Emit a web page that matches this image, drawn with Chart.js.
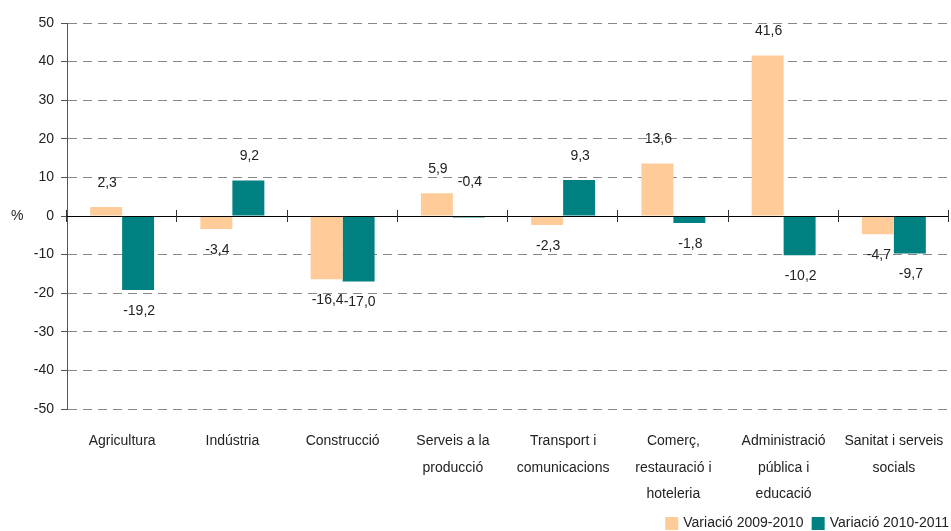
<!DOCTYPE html>
<html><head><meta charset="utf-8">
<script src="https://cdn.jsdelivr.net/npm/chart.js@4/dist/chart.umd.min.js"></script>
<style>html,body{margin:0;padding:0;background:#fff}#wrap{width:951px;height:531px;position:relative}</style>
</head><body><div id="wrap"><canvas id="c" width="951" height="531"></canvas></div>
<script>
const categories = [
  ['Agricultura'],
  ['Indústria'],
  ['Construcció'],
  ['Serveis a la', 'producció'],
  ['Transport i', 'comunicacions'],
  ['Comerç,', 'restauració i', 'hoteleria'],
  ['Administració', 'pública i', 'educació'],
  ['Sanitat i serveis', 'socials']
];
const seriesNames = ['Variació 2009-2010', 'Variació 2010-2011'];
const values2009_2010 = [2.3, -3.4, -16.4, 5.9, -2.3, 13.6, 41.6, -4.7];
const values2010_2011 = [-19.2, 9.2, -17.0, -0.4, 9.3, -1.8, -10.2, -9.7];
const yMin = -50, yMax = 50, yStep = 10;
const axisUnit = '%';

const FONT = "'Liberation Sans Narrow','Arial Narrow','Liberation Sans',Arial,sans-serif";
Chart.defaults.font.family = FONT;
Chart.defaults.color = '#222';

const fmt = v => v.toFixed(1).replace('.', ',');

const extras = {
  id: 'extras',
  afterDatasetsDraw(chart) {
    const {ctx, chartArea: a, scales: {x, y}} = chart;
    const y0 = y.getPixelForValue(0);
    ctx.save();
    // zero line
    ctx.strokeStyle = '#000';
    ctx.lineWidth = 1;
    ctx.beginPath();
    ctx.moveTo(a.left, Math.round(y0) + 0.5);
    ctx.lineTo(a.right, Math.round(y0) + 0.5);
    ctx.stroke();
    // category boundary ticks on zero line
    ctx.strokeStyle = '#333';
    const n = categories.length;
    for (let i = 0; i <= n; i++) {
      const px = Math.round(a.left + i * (a.right - a.left) / n) - 0.5;
      ctx.beginPath();
      ctx.moveTo(px, y0 - 6);
      ctx.lineTo(px, y0 + 6);
      ctx.stroke();
    }
    // data labels
    ctx.font = '14px ' + FONT;
    ctx.fillStyle = '#222';
    ctx.textAlign = 'center';
    ctx.textBaseline = 'middle';
    chart.data.datasets.forEach((ds, di) => {
      const meta = chart.getDatasetMeta(di);
      meta.data.forEach((bar, i) => {
        const v = ds.data[i];
        let ly;
        if (v >= 0) ly = y.getPixelForValue(v) - 24;
        else if (v > -1) ly = y0 - 34;
        else ly = y.getPixelForValue(v) + 21;
        ctx.fillText(fmt(v), bar.x + 1, ly);
      });
    });
    // unit label
    ctx.textAlign = 'left';
    ctx.fillText(axisUnit, 11, y0);
    // legend (bottom right)
    const items = chart.data.datasets.map(d => ({text: d.label, color: d.backgroundColor}));
    const box = 13, gapBox = 5, gapItem = 8;
    let total = 0;
    items.forEach((it, k) => { total += box + gapBox + ctx.measureText(it.text).width + (k < items.length - 1 ? gapItem : 0); });
    let lx = chart.width - 2 - total;
    const ly = 523;
    items.forEach(it => {
      ctx.fillStyle = it.color;
      ctx.fillRect(lx, ly - 6, box, box);
      lx += box + gapBox;
      ctx.fillStyle = '#222';
      ctx.fillText(it.text, lx, ly);
      lx += ctx.measureText(it.text).width + gapItem;
    });
    ctx.restore();
  }
};

new Chart(document.getElementById('c'), {
  type: 'bar',
  data: {
    labels: categories,
    datasets: [
      {label: seriesNames[0], data: values2009_2010, backgroundColor: '#FFCC99', borderWidth: 0},
      {label: seriesNames[1], data: values2010_2011, backgroundColor: '#008080', borderWidth: 0}
    ]
  },
  options: {
    responsive: false,
    animation: false,
    devicePixelRatio: 1,
    layout: {padding: {top: 23, left: 0, right: 2, bottom: 0}},
    datasets: {bar: {barPercentage: 1.0, categoryPercentage: 0.58}},
    plugins: {
      legend: {display: false},
      tooltip: {enabled: false}
    },
    scales: {
      x: {
        grid: {display: false},
        border: {display: false},
        ticks: {maxRotation: 0, minRotation: 0, autoSkip: false, padding: 11, color: '#222', font: {size: 14, lineHeight: 1.9}},
        afterFit: s => { s.height = 531 - 409; s.paddingLeft = 0; s.paddingRight = 0; }
      },
      y: {
        min: yMin, max: yMax,
        ticks: {stepSize: yStep, padding: 7, color: '#222', font: {size: 14}},
        grid: {
          color: c => (c.tick && c.tick.value === 0) ? 'rgba(0,0,0,0)' : '#888',
          lineWidth: 1,
          tickColor: '#555',
          tickLength: 6,
          tickBorderDash: []
        },
        border: {display: true, color: '#555', width: 1, dash: [9, 6]},
        afterFit: s => { s.width = 67; }
      }
    }
  },
  plugins: [extras]
});
</script>
</body></html>
